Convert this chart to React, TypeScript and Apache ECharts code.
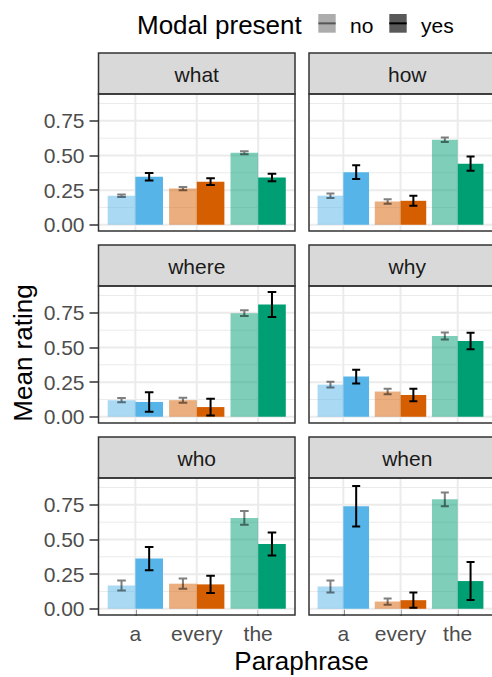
import React, { useEffect, useRef } from 'react';
import * as echarts from 'echarts';

const PANELS = ['what', 'how', 'where', 'why', 'who', 'when'];
const PARAPHRASES = ['a', 'every', 'the'];
const MODAL_LEVELS = ['no', 'yes'];
const Y_TICKS = [0, 0.25, 0.5, 0.75];
const Y_MINOR = [0.125, 0.375, 0.625, 0.875];
const X_TICKS = [1, 2, 3];

// mean rating per panel (rows) and paraphrase (columns)
const meanNo = [
  [0.21, 0.261, 0.52],
  [0.21, 0.168, 0.614],
  [0.12, 0.12, 0.748],
  [0.232, 0.182, 0.583],
  [0.168, 0.181, 0.656],
  [0.161, 0.052, 0.79],
];
const seNo = [
  [0.009, 0.011, 0.011],
  [0.016, 0.017, 0.016],
  [0.016, 0.018, 0.021],
  [0.02, 0.02, 0.025],
  [0.036, 0.037, 0.049],
  [0.043, 0.023, 0.05],
];
const meanYes = [
  [0.346, 0.311, 0.341],
  [0.38, 0.173, 0.441],
  [0.107, 0.07, 0.811],
  [0.29, 0.157, 0.547],
  [0.362, 0.176, 0.467],
  [0.74, 0.062, 0.2],
];
const seYes = [
  [0.027, 0.024, 0.027],
  [0.05, 0.036, 0.051],
  [0.07, 0.06, 0.09],
  [0.05, 0.045, 0.06],
  [0.084, 0.062, 0.083],
  [0.147, 0.055, 0.137],
];

const PARA_COLORS = [
  [86, 180, 233],
  [213, 94, 0],
  [0, 158, 115],
];

const FONT = '"Liberation Sans", Arial, Helvetica, sans-serif';
const X_MIN = 0.4;
const X_MAX = 3.6;
const Y_MIN = -0.045;
const Y_MAX = 0.944;
const BAR_W = 0.45;
const CAP_W = 0.14;

const COL_LEFT = [98.5, 309];
const PANEL_W = 196.5;
const ROW_TOP = [53, 245, 437];
const STRIP_H = 41;
const PLOT_H = 137;

export default function App() {
  const ref = useRef<HTMLDivElement>(null);

  useEffect(() => {
    if (!ref.current) return;
    const chart = echarts.init(ref.current, undefined, { renderer: 'svg' });

    const grids: any[] = [];
    const xAxes: any[] = [];
    const yAxes: any[] = [];
    const series: any[] = [];
    const graphics: any[] = [];

    PANELS.forEach((name, i) => {
      const col = i % 2;
      const row = Math.floor(i / 2);
      const L = COL_LEFT[col];
      const T = ROW_TOP[row];
      const isBottom = row === 2;
      const isLeft = col === 0;

      grids.push({ left: L, top: T + STRIP_H, width: PANEL_W, height: PLOT_H });

      xAxes.push({
        type: 'value',
        gridIndex: i,
        min: X_MIN,
        max: X_MAX,
        splitLine: { show: false },
        axisLine: { show: false },
        axisTick: {
          show: isBottom,
          customValues: X_TICKS,
          length: 7,
          lineStyle: { color: '#333333', width: 1.5 },
        },
        axisLabel: {
          show: isBottom,
          customValues: X_TICKS,
          formatter: (v: number) => PARAPHRASES[Math.round(v) - 1] ?? '',
          fontSize: 21,
          fontFamily: FONT,
          color: '#4D4D4D',
          margin: 8,
        },
      });

      yAxes.push({
        type: 'value',
        gridIndex: i,
        min: Y_MIN,
        max: Y_MAX,
        splitLine: { show: false },
        axisLine: { show: false },
        axisTick: {
          show: isLeft,
          customValues: Y_TICKS,
          length: 9,
          lineStyle: { color: '#333333', width: 1.5 },
        },
        axisLabel: {
          show: isLeft,
          customValues: Y_TICKS,
          formatter: (v: number) => v.toFixed(2),
          fontSize: 21,
          fontFamily: FONT,
          color: '#4D4D4D',
          margin: 14,
        },
      });

      // grid lines
      const gridData: number[][] = [
        ...Y_TICKS.map((v) => [0, v, 1]),
        ...Y_MINOR.map((v) => [0, v, 0]),
        ...X_TICKS.map((v) => [1, v, 1]),
      ];
      series.push({
        type: 'custom',
        xAxisIndex: i,
        yAxisIndex: i,
        silent: true,
        z: 1,
        data: gridData,
        renderItem: (_p: any, api: any) => {
          const o = api.value(0);
          const v = api.value(1);
          const major = api.value(2);
          let p0, p1;
          if (o === 0) {
            p0 = api.coord([X_MIN, v]);
            p1 = api.coord([X_MAX, v]);
          } else {
            p0 = api.coord([v, Y_MIN]);
            p1 = api.coord([v, Y_MAX]);
          }
          return {
            type: 'line',
            shape: { x1: p0[0], y1: p0[1], x2: p1[0], y2: p1[1] },
            style: { stroke: '#EBEBEB', lineWidth: major ? 2 : 1 },
          };
        },
      });

      // bars + error bars
      const barData: number[][] = [];
      PARAPHRASES.forEach((_, c) => {
        barData.push([c + 1, meanNo[i][c], seNo[i][c], 0]);
        barData.push([c + 1, meanYes[i][c], seYes[i][c], 1]);
      });
      series.push({
        type: 'custom',
        name: name,
        xAxisIndex: i,
        yAxisIndex: i,
        silent: true,
        z: 2,
        data: barData,
        renderItem: (_p: any, api: any) => {
          const x = api.value(0);
          const m = api.value(1);
          const se = api.value(2);
          const yes = api.value(3) === 1;
          const x0 = yes ? x : x - BAR_W;
          const x1 = x0 + BAR_W;
          const xc = (x0 + x1) / 2;
          const b0 = api.coord([x0, 0]);
          const b1 = api.coord([x1, m]);
          const rgb = PARA_COLORS[Math.round(x) - 1];
          const fill = `rgba(${rgb[0]},${rgb[1]},${rgb[2]},${yes ? 1 : 0.5})`;
          const top = api.coord([xc, m + se]);
          const bot = api.coord([xc, m - se]);
          const cl = api.coord([xc - CAP_W / 2, m])[0];
          const cr = api.coord([xc + CAP_W / 2, m])[0];
          return {
            type: 'group',
            children: [
              {
                type: 'rect',
                shape: { x: b0[0], y: b1[1], width: b1[0] - b0[0], height: b0[1] - b1[1] },
                style: { fill },
              },
              {
                type: 'polyline',
                shape: {
                  points: [
                    [cl, top[1]],
                    [cr, top[1]],
                    [top[0], top[1]],
                    [bot[0], bot[1]],
                    [cl, bot[1]],
                    [cr, bot[1]],
                  ],
                },
                style: {
                  fill: null,
                  stroke: yes ? '#000000' : 'rgba(0,0,0,0.5)',
                  lineWidth: 2,
                  lineJoin: 'miter',
                },
              },
            ],
          };
        },
      });

      // strip
      graphics.push({
        type: 'rect',
        z: 100,
        silent: true,
        shape: { x: L, y: T, width: PANEL_W, height: STRIP_H },
        style: { fill: '#D9D9D9', stroke: '#333333', lineWidth: 1.5 },
      });
      graphics.push({
        type: 'text',
        z: 101,
        silent: true,
        x: L + PANEL_W / 2,
        y: T + STRIP_H / 2 + 0.5,
        style: {
          text: name,
          fontSize: 21,
          fontFamily: FONT,
          fill: '#1A1A1A',
          align: 'center',
          verticalAlign: 'middle',
        },
      });
      // panel border
      graphics.push({
        type: 'rect',
        z: 100,
        silent: true,
        shape: { x: L, y: T + STRIP_H, width: PANEL_W, height: PLOT_H },
        style: { fill: 'transparent', stroke: '#333333', lineWidth: 1.5 },
      });
    });

    // axis titles
    graphics.push({
      type: 'text',
      z: 101,
      silent: true,
      x: 22.5,
      y: 353,
      rotation: Math.PI / 2,
      style: {
        text: 'Mean rating',
        fontSize: 26,
        fontFamily: FONT,
        fill: '#000000',
        align: 'center',
        verticalAlign: 'middle',
      },
    });
    graphics.push({
      type: 'text',
      z: 101,
      silent: true,
      x: 301.5,
      y: 661,
      style: {
        text: 'Paraphrase',
        fontSize: 26,
        fontFamily: FONT,
        fill: '#000000',
        align: 'center',
        verticalAlign: 'middle',
      },
    });

    // legend
    graphics.push({
      type: 'text',
      z: 101,
      silent: true,
      x: 137,
      y: 25.2,
      style: {
        text: 'Modal present',
        fontSize: 26,
        fontFamily: FONT,
        fill: '#000000',
        align: 'left',
        verticalAlign: 'middle',
      },
    });
    const keyX = [318.3, 389.3];
    const labelX = [350, 421];
    MODAL_LEVELS.forEach((lvl, k) => {
      graphics.push({
        type: 'rect',
        z: 100,
        silent: true,
        shape: { x: keyX[k], y: 14, width: 17.4, height: 18.7 },
        style: { fill: k === 0 ? 'rgba(89,89,89,0.5)' : '#595959' },
      });
      graphics.push({
        type: 'line',
        z: 101,
        silent: true,
        shape: { x1: keyX[k], y1: 23.35, x2: keyX[k] + 17.4, y2: 23.35 },
        style: { stroke: k === 0 ? 'rgba(0,0,0,0.5)' : '#000000', lineWidth: 2 },
      });
      graphics.push({
        type: 'text',
        z: 101,
        silent: true,
        x: labelX[k],
        y: 25,
        style: {
          text: lvl,
          fontSize: 21,
          fontFamily: FONT,
          fill: '#000000',
          align: 'left',
          verticalAlign: 'middle',
        },
      });
    });

    chart.setOption({
      animation: false,
      backgroundColor: '#FFFFFF',
      grid: grids,
      xAxis: xAxes,
      yAxis: yAxes,
      series,
      graphic: { elements: graphics },
    });

    return () => chart.dispose();
  }, []);

  return (
    <div
      ref={ref}
      style={{ position: 'absolute', left: 0, top: 0, width: 492, height: 677 }}
    />
  );
}
